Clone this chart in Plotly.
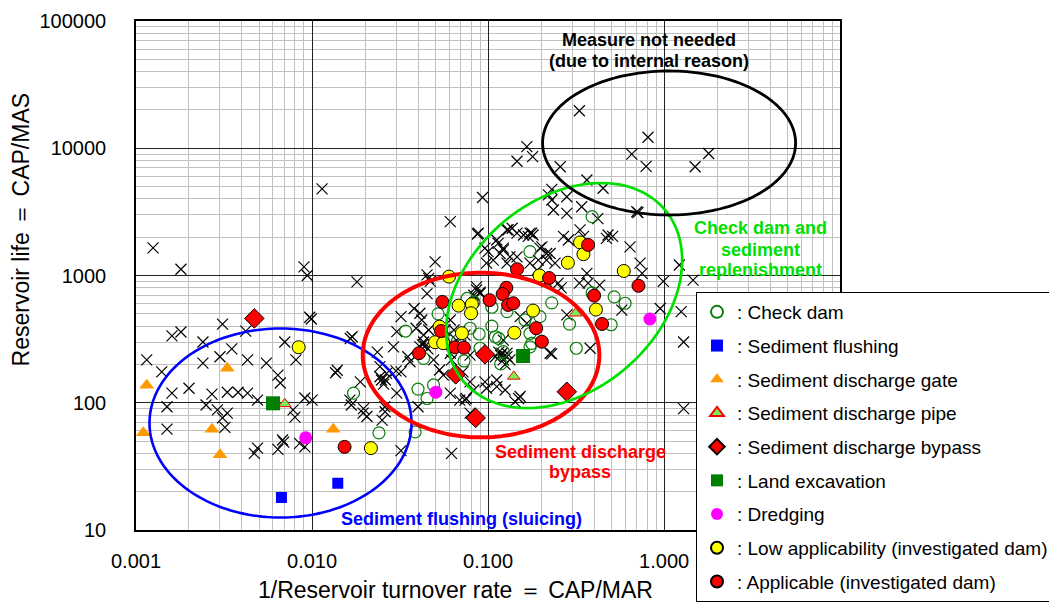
import numpy as np
import plotly.graph_objects as go

# ---------------- data ----------------
other_x = [0.00125, 0.0018, 0.0090, 0.0094, 0.0114, 0.018, 0.0097, 0.0099, 0.0031, 0.0042, 0.0016, 0.0018,
           0.0070, 0.0024, 0.0169, 0.00115, 0.0014, 0.0024, 0.0030, 0.0035, 0.0043, 0.0055, 0.0064, 0.0081,
           0.0139, 0.0136, 0.0020, 0.0016, 0.0027, 0.0033, 0.0038, 0.0043, 0.0049, 0.0066, 0.0091, 0.0100,
           0.0188, 0.0015, 0.0025, 0.0029, 0.0033, 0.0031, 0.0032, 0.0080, 0.0078, 0.0164, 0.0195, 0.0015,
           0.0068, 0.0049, 0.0091, 0.0047, 0.0064, 0.0069, 0.0085, 0.032, 0.062, 0.0205, 0.025, 0.026,
           0.0196, 0.0167, 0.0243, 0.0261, 0.0255, 0.030, 0.0235, 0.029, 0.0303, 0.0165,
           0.061, 0.093, 0.088, 0.050, 0.046, 0.045, 0.146, 0.166, 0.179, 0.096, 0.098, 0.112, 0.130, 0.146,
           0.173, 0.107, 0.117, 0.128, 0.146, 0.197, 0.215, 0.22, 0.086, 0.090, 0.33, 0.81, 0.655, 0.79,
           0.257, 0.364, 0.45, 0.23, 0.23, 0.28, 0.235, 0.28, 0.34, 0.42, 0.70, 0.64, 0.48, 0.51, 0.268,
           0.286, 0.333, 0.348, 0.128, 0.137, 0.159, 0.177, 0.114, 0.122, 0.202, 0.225, 0.24, 0.364, 0.37,
           0.73, 0.75, 0.045, 0.047, 0.19, 0.215, 0.71, 1.22, 0.99, 1.46, 1.79, 1.5, 1.29, 1.29, 0.95, 1.25,
           0.575, 0.087, 0.100, 0.086, 0.090, 0.083, 0.032, 0.038, 0.041, 0.042, 0.061, 0.064, 0.039, 0.043,
           0.046, 0.0424, 0.044, 0.0455, 0.041, 0.043, 0.035, 0.036, 0.049, 0.061, 0.062, 0.0243, 0.0265,
           0.0248, 0.032, 0.053, 0.0557, 0.072, 0.079, 0.083, 0.096, 0.098, 0.12, 0.128, 0.122, 0.112, 0.125,
           0.142, 0.061, 0.0303, 0.0259, 0.069, 0.074, 0.079, 0.040, 0.075, 0.149, 0.112, 0.47, 0.169, 0.18,
           0.122, 0.133, 0.215, 0.193, 0.33, 0.43, 0.25, 0.26, 0.173, 0.28, 0.225, 0.38, 0.152, 0.166, 0.122,
           0.128, 0.133, 0.152, 0.23, 0.066, 0.070, 0.074, 0.057, 0.079, 0.115, 0.118, 0.125, 0.11]
other_y = [1650, 1120, 1170, 1000, 4800, 890, 470, 455, 415, 365, 335, 360,
           300, 300, 330, 217, 175, 205, 230, 265, 217, 205, 165, 217,
           180, 172, 130, 119, 117, 121, 121, 119, 105, 143, 109, 105,
           146, 93, 96, 88, 83, 76, 64, 77, 88, 105, 83, 62,
           51, 44, 45, 40, 43, 49, 48, 42, 40, 78, 73, 85,
           90, 96, 160, 151, 140, 178, 250, 275, 362, 320,
           2650, 4100, 2150, 1280, 950, 720, 7900, 10300, 8600, 1640, 1250, 1900, 2280, 2150,
           2150, 1320, 1490, 1250, 1400, 1640, 1490, 4300, 770, 725, 19700, 12200, 9000, 7200,
           7150, 5630, 4850, 4750, 3920, 4160, 3270, 3080, 3470, 2800, 3170, 1680, 2080, 2030, 2030,
           1900, 2280, 2030, 2280, 2350, 2080, 2150, 1790, 1640, 1680, 1490, 1250, 1040, 870,
           1250, 1040, 1010, 900, 1100, 895, 3120, 1210, 900, 920, 9100, 7150, 300, 90, 550, 520,
           535, 2120, 1540, 815, 740, 700, 475, 550, 505, 447, 447, 373, 385, 341,
           373, 285, 280, 265, 275, 300, 230, 210, 217, 245, 217, 192, 170,
           151, 175, 181, 165, 175, 146, 126, 146, 130, 245, 230, 217, 134, 126,
           102, 119, 119, 93, 105, 105, 83, 93, 108, 108, 151, 1960, 2030, 2080,
           1590, 1400, 1320, 1320, 870, 840, 870, 800, 1250, 490, 245, 268, 475, 420, 311,
           245, 217, 112, 242, 310, 285, 340, 373, 237, 250, 235, 200, 230]

check_x = [0.0172, 0.024, 0.0385, 0.040, 0.045, 0.049, 0.052, 0.034, 0.079, 0.089, 0.073, 0.115,
           0.090, 0.118, 0.083, 0.076, 0.128, 0.105, 0.39, 0.173, 0.23, 0.52, 0.60, 0.39, 0.29, 0.50,
           0.162, 0.197, 0.317, 0.173, 0.122, 0.043, 0.173, 0.177, 0.064, 0.067, 0.105, 0.11]
check_y = [119, 58, 59, 128, 108, 138, 500, 366, 385, 347, 213, 320,
           268, 202, 620, 660, 520, 563, 2900, 1540, 610, 680, 605, 730, 415, 410,
           447, 475, 268, 275, 252, 223, 350, 293, 330, 305, 400, 330]

flush_x = [0.0067, 0.014]
flush_y = [18, 23.3]

gate_x = [0.00115, 0.0011, 0.0033, 0.0027, 0.0030, 0.0132]
gate_y = [137, 58, 187, 62, 39, 62]

pipe_x = [0.0070, 0.14, 0.314]
pipe_y = [98, 161, 505]

bypass_x = [0.0047, 0.0655, 0.085, 0.096, 0.28]
bypass_y = [460, 167, 76, 240, 122]

land_x = [0.0060, 0.158]
land_y = [99, 233]

dredge_x = [0.0092, 0.0505, 0.83]
dredge_y = [53, 121, 455]

low_x = [0.0084, 0.0216, 0.060, 0.068, 0.0809, 0.080, 0.053, 0.071, 0.050, 0.0556, 0.141, 0.333,
         0.348, 0.284, 0.196, 0.59, 0.41, 0.18]
low_y = [273, 44, 980, 580, 595, 505, 396, 352, 299, 294, 355, 1820,
         1470, 1260, 1000, 1085, 540, 530]

app_x = [0.0153, 0.055, 0.054, 0.0405, 0.065, 0.0729, 0.102, 0.127, 0.121, 0.13, 0.139, 0.146,
         0.37, 0.222, 0.715, 0.40, 0.1875, 0.202, 0.444]
app_y = [45, 620, 366, 245, 273, 271, 640, 800, 715, 587, 605, 1120,
         1740, 955, 830, 695, 385, 302, 416]

x_title = "1/Reservoir turnover rate \uff1d CAP/MAR"
y_title = "Reservoir life \uff1d CAP/MAS"

# ---------------- layout constants ----------------
# the page body has an 8px default margin, so the figure is 8px smaller and offset
BODY = 8
W, H = 1057 - BODY, 605 - BODY
PW, PH = 704, 509
ML, MT = 136 - BODY, 21 - BODY
MR, MB = W - ML - PW, H - MT - PH
XR = [-3, 0.999]
YR = [1, 5]
FONT = "Arial, Liberation Sans, sans-serif"

fig = go.Figure()


def add(x, y, name, rank, marker, show=True):
    fig.add_trace(go.Scatter(x=x, y=y, mode="markers", name=name, marker=marker,
                             showlegend=show, legendrank=rank, legendgroup=name, hoverinfo="x+y"))


add(other_x, other_y, "Other dams", 100,
    dict(symbol="x-thin", size=11, line=dict(color="black", width=1.2)), show=False)
add(check_x, check_y, ": Check dam", 1,
    dict(symbol="circle-open", size=12, color="#0b7d0b", line=dict(width=1.2)))
add(low_x, low_y, ": Low applicability (investigated dam)", 8,
    dict(symbol="circle", size=13, color="#ffff00", line=dict(color="black", width=1)))
add(app_x, app_y, ": Applicable (investigated dam)", 9,
    dict(symbol="circle", size=13, color="#ff0000", line=dict(color="black", width=1)))
add(flush_x, flush_y, ": Sediment flushing", 2,
    dict(symbol="square", size=11, color="#0000ff"))
add(gate_x, gate_y, ": Sediment discharge gate", 3,
    dict(symbol="triangle-up", size=13, color="#ff9900"))
add(pipe_x, pipe_y, ": Sediment discharge pipe", 4,
    dict(symbol="triangle-up", size=11, color="#77ee55", line=dict(color="#ff0000", width=1)))
add(land_x, land_y, ": Land excavation", 6,
    dict(symbol="square", size=14, color="#008000"))
add(dredge_x, dredge_y, ": Dredging", 7,
    dict(symbol="circle", size=13, color="#ff00ff"))
add(bypass_x, bypass_y, ": Sediment discharge bypass", 5,
    dict(symbol="diamond", size=15, color="#ff0000", line=dict(color="black", width=1)))

# ---------------- ellipses (center in data units, semi-axes in px, tilt in degrees) ----------------
ellipses = [
    dict(cx=0.00662, cy=69.3, a=131, b=94.5, tilt=0, color="#0000ff", width=2.6),
    dict(cx=0.0912, cy=237, a=118.3, b=82.3, tilt=0, color="#ff0000", width=4),
    dict(cx=0.2705, cy=696, a=132.3, b=95.3, tilt=40.7, color="#00e000", width=2.7),
    dict(cx=1.067, cy=11000, a=126.5, b=72, tilt=0, color="#000000", width=2.8),
]
t = np.linspace(0, 2 * np.pi, 181)
for e in ellipses:
    th = np.radians(e["tilt"])
    dx = e["a"] * np.cos(t) * np.cos(th) - e["b"] * np.sin(t) * np.sin(th)
    dy = e["a"] * np.cos(t) * np.sin(th) + e["b"] * np.sin(t) * np.cos(th)
    cxp = (np.log10(e["cx"]) - XR[0]) / (XR[1] - XR[0])
    cyp = (np.log10(e["cy"]) - YR[0]) / (YR[1] - YR[0])
    xs = cxp + dx / PW
    ys = cyp + dy / PH
    path = "M " + " L ".join(f"{a:.5f},{b:.5f}" for a, b in zip(xs, ys)) + " Z"
    fig.add_shape(type="path", path=path, xref="paper", yref="paper",
                  line=dict(color=e["color"], width=e["width"]), layer="above")

# ---------------- region labels (paper coords) ----------------
labels = [
    ("Measure not needed", 0.7287, 0.9627, "#000000"),
    ("(due to internal reason)", 0.7287, 0.9214, "#000000"),
    ("Check dam and", 0.8864, 0.5933, "#00e000"),
    ("sediment", 0.8864, 0.5501, "#00e000"),
    ("replenishment", 0.8864, 0.5108, "#00e000"),
    ("Sediment discharge", 0.6307, 0.1532, "#ff0000"),
    ("bypass", 0.6307, 0.1140, "#ff0000"),
    ("Sediment flushing (sluicing)", 0.4630, 0.0216, "#0000ff"),
]
for txt, xp, yp, col in labels:
    fig.add_annotation(text=f"<b>{txt}</b>", x=xp, y=yp, xref="paper", yref="paper",
                       showarrow=False, xanchor="center", yanchor="middle",
                       font=dict(family=FONT, size=18, color=col))

# axis titles
fig.add_annotation(text=x_title, x=0.4545, y=-0.118, xref="paper", yref="paper", showarrow=False,
                   xanchor="center", yanchor="middle", font=dict(family=FONT, size=23, color="black"))
fig.add_annotation(text=y_title, x=-0.163, y=0.591, xref="paper", yref="paper", showarrow=False,
                   xanchor="center", yanchor="middle", textangle=-90,
                   font=dict(family=FONT, size=23, color="black"))

axis_common = dict(type="log", dtick=1, showgrid=True, gridcolor="#222222", gridwidth=1,
                   minor=dict(dtick="D1", showgrid=True, gridcolor="#c0c0c0", gridwidth=1, ticks=""),
                   showline=True, linecolor="black", linewidth=1.5, mirror=True, ticks="",
                   zeroline=False, tickfont=dict(family=FONT, size=20, color="black"))

fig.update_xaxes(range=XR, tickformat=".3f", ticklabelstandoff=12, **axis_common)
fig.update_yaxes(range=YR, tickformat="d", ticklabelstandoff=24, **axis_common)

fig.update_layout(
    width=W, height=H,
    margin=dict(l=ML, r=MR, t=MT, b=MB, pad=0, autoexpand=False),
    paper_bgcolor="white", plot_bgcolor="white",
    font=dict(family=FONT, color="black"),
    legend=dict(x=(696 - 136) / PW, y=(530 - 292) / PH, xanchor="left", yanchor="top",
                bgcolor="white", bordercolor="black", borderwidth=1,
                font=dict(family=FONT, size=19, color="black"),
                tracegroupgap=6, traceorder="grouped", itemsizing="constant"),
    showlegend=True,
)

fig.write_html("out.html")
